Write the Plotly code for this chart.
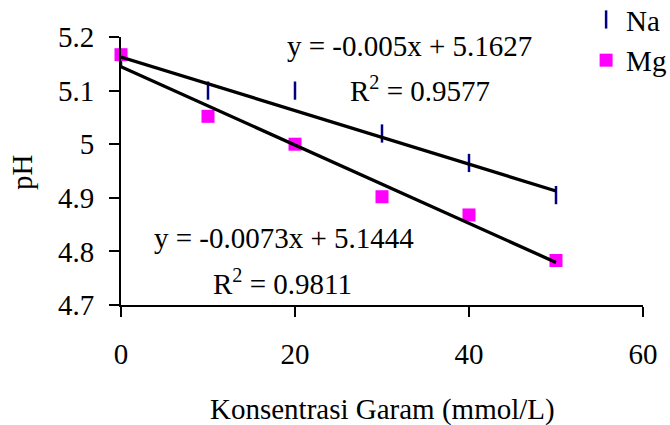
import plotly.graph_objects as go

# ---- data ----
konsentrasi = [0, 10, 20, 30, 40, 50]
ph_na = [5.16, 5.10, 5.10, 5.02, 4.965, 4.905]
ph_mg = [5.167, 5.052, 5.0, 4.902, 4.868, 4.783]

# trendline coefficients (as printed on the chart)
na_slope, na_intercept, na_r2 = -0.005, 5.1627, 0.9577
mg_slope, mg_intercept, mg_r2 = -0.0073, 5.1444, 0.9811

x_ticks = [0, 20, 40, 60]
y_ticks = [4.7, 4.8, 4.9, 5.0, 5.1, 5.2]
y_ticktext = ["4.7", "4.8", "4.9", "5", "5.1", "5.2"]

FONT = "Liberation Serif"
FS = 29

trend_x = [konsentrasi[0], konsentrasi[-1]]
na_trend = [na_slope * x + na_intercept for x in trend_x]
mg_trend = [mg_slope * x + mg_intercept for x in trend_x]

fig = go.Figure()
fig.add_trace(go.Scatter(
    x=konsentrasi, y=ph_na, mode="markers", name="Na",
    marker=dict(symbol="line-ns", size=13, color="#000080",
                line=dict(color="#000080", width=2.5)),
    cliponaxis=False,
))
fig.add_trace(go.Scatter(
    x=konsentrasi, y=ph_mg, mode="markers", name="Mg",
    marker=dict(symbol="square", size=13, color="#FF00FF",
                line=dict(width=0)),
    cliponaxis=False,
))
fig.add_trace(go.Scatter(
    x=trend_x, y=na_trend, mode="lines", showlegend=False,
    line=dict(color="black", width=3.3), hoverinfo="skip",
))
fig.add_trace(go.Scatter(
    x=trend_x, y=mg_trend, mode="lines", showlegend=False,
    line=dict(color="black", width=3.3), hoverinfo="skip",
))

def eq_text(slope, intercept):
    return f"y = {slope:g}x + {intercept:g}"

ann_font = dict(family=FONT, size=FS, color="black")
annotations = [
    dict(text=eq_text(na_slope, na_intercept), x=0.552, y=0.965,
         xref="paper", yref="paper", showarrow=False,
         xanchor="center", yanchor="middle", font=ann_font),
    dict(text=f"R<sup>2</sup> = {na_r2:g}", x=0.573, y=0.805,
         xref="paper", yref="paper", showarrow=False,
         xanchor="center", yanchor="middle", font=ann_font),
    dict(text=eq_text(mg_slope, mg_intercept), x=0.312, y=0.25,
         xref="paper", yref="paper", showarrow=False,
         xanchor="center", yanchor="middle", font=ann_font),
    dict(text=f"R<sup>2</sup> = {mg_r2:g}", x=0.310, y=0.085,
         xref="paper", yref="paper", showarrow=False,
         xanchor="center", yanchor="middle", font=ann_font),
    dict(text="Konsentrasi Garam (mmol/L)", x=0.5, y=-0.39,
         xref="paper", yref="paper", showarrow=False,
         xanchor="center", yanchor="middle", font=ann_font),
    dict(text="pH", x=-0.19, y=0.496, textangle=-90,
         xref="paper", yref="paper", showarrow=False,
         xanchor="center", yanchor="middle", font=ann_font),
]

fig.update_layout(
    width=670, height=425,
    margin=dict(l=121, r=27, t=37, b=120, autoexpand=False),
    paper_bgcolor="white", plot_bgcolor="white",
    font=dict(family=FONT, size=FS, color="black"),
    showlegend=True,
    legend=dict(x=0.891, y=1.16, xanchor="left", yanchor="top",
                bgcolor="rgba(0,0,0,0)",
                font=dict(family=FONT, size=FS, color="black"),
                itemwidth=30, tracegroupgap=0),
    annotations=annotations,
)
fig.update_xaxes(
    range=[0, 60], tickvals=x_ticks, ticktext=[str(v) for v in x_ticks],
    showgrid=False, zeroline=False, showline=True, linecolor="black",
    linewidth=2, ticks="outside", ticklen=10, tickwidth=2,
    tickcolor="black", ticklabelstandoff=12, automargin=False,
    tickfont=dict(family=FONT, size=FS, color="black"),
)
fig.update_yaxes(
    range=[4.7, 5.2], tickvals=y_ticks, ticktext=y_ticktext,
    showgrid=False, zeroline=False, showline=True, linecolor="black",
    linewidth=2, ticks="outside", ticklen=10, tickwidth=2,
    tickcolor="black", ticklabelstandoff=9, automargin=False,
    tickfont=dict(family=FONT, size=FS, color="black"),
)

fig.write_html(
    "out.html",
    config={"displayModeBar": False},
    post_script="document.body.style.margin='0';document.body.style.overflow='hidden';",
)
